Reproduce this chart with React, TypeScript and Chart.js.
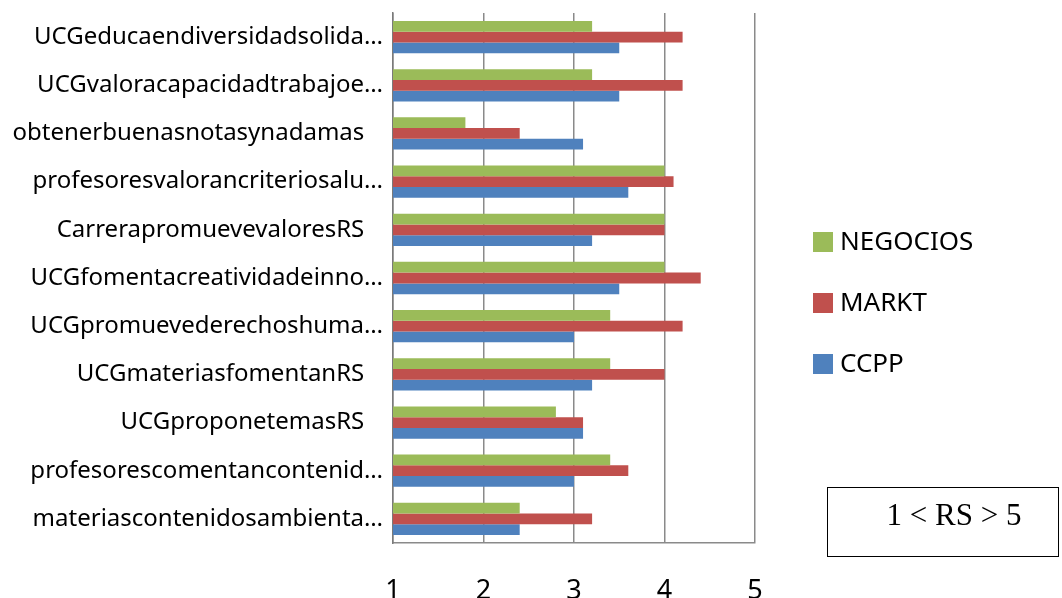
import React, { useEffect, useRef } from "react";
import { Chart, registerables } from "chart.js";

Chart.register(...registerables);

// Survey items, listed top to bottom (short items keep their trailing blanks)
const categories = [
  "UCGeducaendiversidadsolida…",
  "UCGvaloracapacidadtrabajoe…",
  "obtenerbuenasnotasynadamas   ",
  "profesoresvalorancriteriosalu…",
  "CarrerapromuevevaloresRS   ",
  "UCGfomentacreatividadeinno…",
  "UCGpromuevederechoshuma…",
  "UCGmateriasfomentanRS   ",
  "UCGproponetemasRS   ",
  "profesorescomentancontenid…",
  "materiascontenidosambienta…",
];

const negocios = [3.2, 3.2, 1.8, 4.0, 4.0, 4.0, 3.4, 3.4, 2.8, 3.4, 2.4];
const markt = [4.2, 4.2, 2.4, 4.1, 4.0, 4.4, 4.2, 4.0, 3.1, 3.6, 3.2];
const ccpp = [3.5, 3.5, 3.1, 3.6, 3.2, 3.5, 3.0, 3.2, 3.1, 3.0, 2.4];

const seriesNames = ["NEGOCIOS", "MARKT", "CCPP"];
const seriesColors = ["#9BBB59", "#C0504D", "#4F81BD"];

const xMin = 1;
const xMax = 5;
const rangeNote = "1 < RS > 5";

const labelFont = '"Noto Sans", "DejaVu Sans", sans-serif';

// Legend drawn on the canvas to the right of the plot
const sideLegend = {
  id: "sideLegend",
  afterDraw(chart: any) {
    const { ctx } = chart;
    const x0 = 813;
    const yCenters = [242, 303, 364];
    ctx.save();
    chart.data.datasets.forEach((ds: any, i: number) => {
      const y = yCenters[i];
      ctx.fillStyle = ds.backgroundColor;
      ctx.fillRect(x0, y - 10, 20, 20);
      ctx.fillStyle = "#000";
      ctx.font = `26px ${labelFont}`;
      ctx.textBaseline = "middle";
      ctx.textAlign = "left";
      ctx.fillText(ds.label, x0 + 27, y + 1);
    });
    ctx.restore();
  },
};

function BarChart() {
  const ref = useRef<HTMLCanvasElement | null>(null);

  useEffect(() => {
    if (!ref.current) return;
    const seriesData = [negocios, markt, ccpp];
    const chart = new Chart(ref.current, {
      type: "bar",
      data: {
        labels: categories,
        datasets: seriesNames.map((name, i) => ({
          label: name,
          data: seriesData[i],
          backgroundColor: seriesColors[i],
          borderWidth: 0,
          categoryPercentage: 0.67,
          barPercentage: 1,
        })),
      },
      options: {
        indexAxis: "y",
        responsive: false,
        animation: false,
        layout: { padding: { left: 0, right: 307, top: 13, bottom: 0 } },
        plugins: {
          legend: { display: false },
          tooltip: { enabled: false },
        },
        scales: {
          x: {
            min: xMin,
            max: xMax,
            ticks: {
              stepSize: 1,
              color: "#000",
              font: { family: labelFont, size: 27 },
              padding: 32,
            },
            grid: { color: "#8a8a8a", lineWidth: 1.5, drawTicks: false },
            border: { display: true, color: "#8a8a8a", width: 1.5 },
            afterFit: (s: any) => {
              s.height = 55;
            },
          },
          y: {
            ticks: {
              color: "#000",
              font: { family: labelFont, size: 24 },
              padding: 10,
              autoSkip: false,
            },
            grid: { display: false, drawTicks: false },
            border: { display: true, color: "#7a7a7a", width: 1.5 },
            afterFit: (s: any) => {
              s.width = 393;
              s.paddingTop = 0;
              s.paddingBottom = 0;
            },
          },
        },
      },
      plugins: [sideLegend],
    });
    return () => chart.destroy();
  }, []);

  return <canvas ref={ref} width={1062} height={598} />;
}

export default function App() {
  return (
    <div
      style={{
        position: "absolute",
        left: 0,
        top: 0,
        width: 1062,
        height: 598,
        background: "#fff",
        overflow: "hidden",
      }}
    >
      <BarChart />
      <div
        style={{
          position: "absolute",
          left: 827,
          top: 487,
          width: 232,
          height: 70,
          border: "1px solid #000",
          boxSizing: "border-box",
          fontFamily: '"Liberation Serif", "Times New Roman", serif',
          fontSize: 31,
          color: "#000",
          display: "flex",
          alignItems: "center",
          justifyContent: "center",
          paddingLeft: 22,
          paddingBottom: 14,
        }}
      >
        {rangeNote}
      </div>
    </div>
  );
}
